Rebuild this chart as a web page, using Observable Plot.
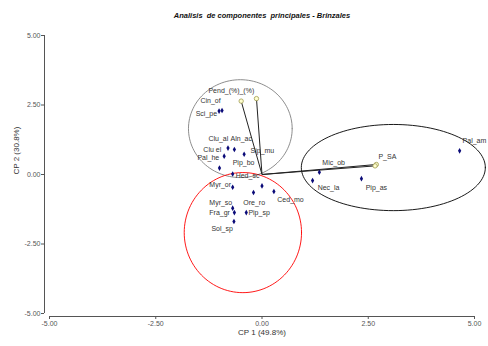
<!DOCTYPE html>
<html>
<head>
<meta charset="utf-8">
<script src="https://cdn.jsdelivr.net/npm/d3@7"></script>
<script src="https://cdn.jsdelivr.net/npm/@observablehq/plot@0.6"></script>
<style>
  html, body { margin: 0; padding: 0; background: #fff; }
  #wrap { width: 488px; height: 346px; position: relative; overflow: hidden; }
  #title { font: italic bold 7.5px "Liberation Sans", Arial, sans-serif; height: 26px; line-height: 32px; text-align: center; color: #111; padding-left: 36px; box-sizing: border-box; }
  svg { display: block; }
</style>
</head>
<body>
<div id="wrap">
  <div id="title">Analisis&nbsp; de componentes&nbsp; principales - Brinzales</div>
  <div id="chart"></div>
</div>
<script>
// Species scores (CP1, CP2)
const pointX = [-1.01, -0.94, -0.80, -0.65, -0.89, -0.42, -1.00, -0.69, -0.69, 0.00, -0.20, 0.28, -0.69, -0.65, -0.37, -0.66, 1.35, 1.19, 2.34, 4.65];
const pointY = [2.28, 2.30, 0.95, 0.90, 0.66, 0.73, 0.23, 0.02, -0.46, -0.41, -0.65, -0.61, -1.21, -1.37, -1.37, -1.69, 0.08, -0.22, -0.15, 0.85];

// Labels (left edge x, middle y)
const labelText = ["Pend_(%)", "_(%)", "Cin_of", "Sci_pe", "Clu_al", "Aln_ac", "Clu el", "Sip_mu", "Pal_he", "Pip_bo", "Hed_sc", "Myr_or", "Ore_ro", "Ced_mo", "Myr_so", "Fra_gr", "Pip_sp", "Sol_sp", "Mic_ob", "Nec_la", "Pip_as", "P_SA", "Pal_am"];
const labelX = [-1.26, -0.53, -1.45, -1.56, -1.26, -0.74, -1.38, -0.27, -1.52, -0.69, -0.62, -1.24, -0.44, 0.36, -1.24, -1.24, -0.32, -1.19, 1.42, 1.31, 2.44, 2.74, 4.72];
const labelY = [3.00, 3.02, 2.64, 2.18, 1.28, 1.28, 0.89, 0.87, 0.59, 0.44, -0.06, -0.36, -1.00, -0.90, -1.01, -1.39, -1.38, -1.95, 0.44, -0.48, -0.46, 0.65, 1.22];

// Environmental vectors (end points)
const vectorX = [-0.49, -0.13, 2.69, 2.66];
const vectorY = [2.64, 2.73, 0.36, 0.31];

// Group ellipses: centre and radii (data units)
const ellipseName = ["grey", "red", "black"];
const ellipseCX = [-0.51, -0.45, 3.09];
const ellipseCY = [1.65, -2.09, 0.25];
const ellipseRX = [1.22, 1.38, 2.165];
const ellipseRY = [1.76, 2.16, 1.55];
const ellipseColor = ["#888", "#e02020", "#111"];

const xTicks = [-5, -2.5, 0, 2.5, 5];
const yTicks = [-5, -2.5, 0, 2.5, 5];

const points = pointX.map((x, i) => ({x, y: pointY[i]}));
const labels = labelText.map((t, i) => ({t, x: labelX[i], y: labelY[i]}));
const vectors = vectorX.map((x, i) => ({x1: 0, y1: 0, x2: x, y2: vectorY[i]}));

const ellipsePts = [];
ellipseName.forEach((n, k) => {
  for (let a = 0; a <= 360; a += 3) {
    const t = a * Math.PI / 180;
    ellipsePts.push({g: n, x: ellipseCX[k] + ellipseRX[k] * Math.cos(t), y: ellipseCY[k] + ellipseRY[k] * Math.sin(t)});
  }
});

const fmt = d => d.toFixed(2);
const font = '"Liberation Sans", Arial, sans-serif';

const chart = Plot.plot({
  width: 488,
  height: 320,
  marginLeft: 49,
  marginRight: 14,
  marginTop: 9,
  marginBottom: 33,
  style: {fontFamily: font, fontSize: "7px", color: "#444", background: "#fff"},
  x: {domain: [-5, 5]},
  y: {domain: [-5, 5]},
  color: {domain: ellipseName, range: ellipseColor},
  marks: [
    Plot.ruleX([-5], {dx: -5, stroke: "#555"}),
    Plot.ruleY([-5], {dy: 3, stroke: "#555"}),
    Plot.axisX({ticks: xTicks, tickFormat: fmt, tickSize: 3, dy: 3, tickPadding: 2, fill: "#555", stroke: "#555", label: null}),
    Plot.axisY({ticks: yTicks, tickFormat: fmt, tickSize: 3, dx: -5, tickPadding: 1, fill: "#555", stroke: "#555", label: null}),
    Plot.text(["CP 1 (49.8%)"], {frameAnchor: "bottom", dy: 21, fontSize: 8, fill: "#333"}),
    Plot.text(["CP 2 (30.8%)"], {frameAnchor: "left", dx: -33, rotate: -90, fontSize: 8, fill: "#333"}),
    Plot.line(ellipsePts, {x: "x", y: "y", z: "g", stroke: "g", strokeWidth: 0.9, curve: "linear"}),
    Plot.link(vectors, {x1: "x1", y1: "y1", x2: "x2", y2: "y2", stroke: "#222", strokeWidth: 1}),
    Plot.dot(vectors, {x: "x2", y: "y2", r: 2.2, fill: "#ffffd0", stroke: "#a09a50", strokeWidth: 0.8}),
    Plot.dot(points, {x: "x", y: "y", symbol: "diamond", r: 1.7, fill: "#0a0a78"}),
    Plot.text(labels, {x: "x", y: "y", text: "t", textAnchor: "start", fontSize: 7, fill: "#333"})
  ]
});
document.getElementById("chart").appendChild(chart);
</script>
</body>
</html>
